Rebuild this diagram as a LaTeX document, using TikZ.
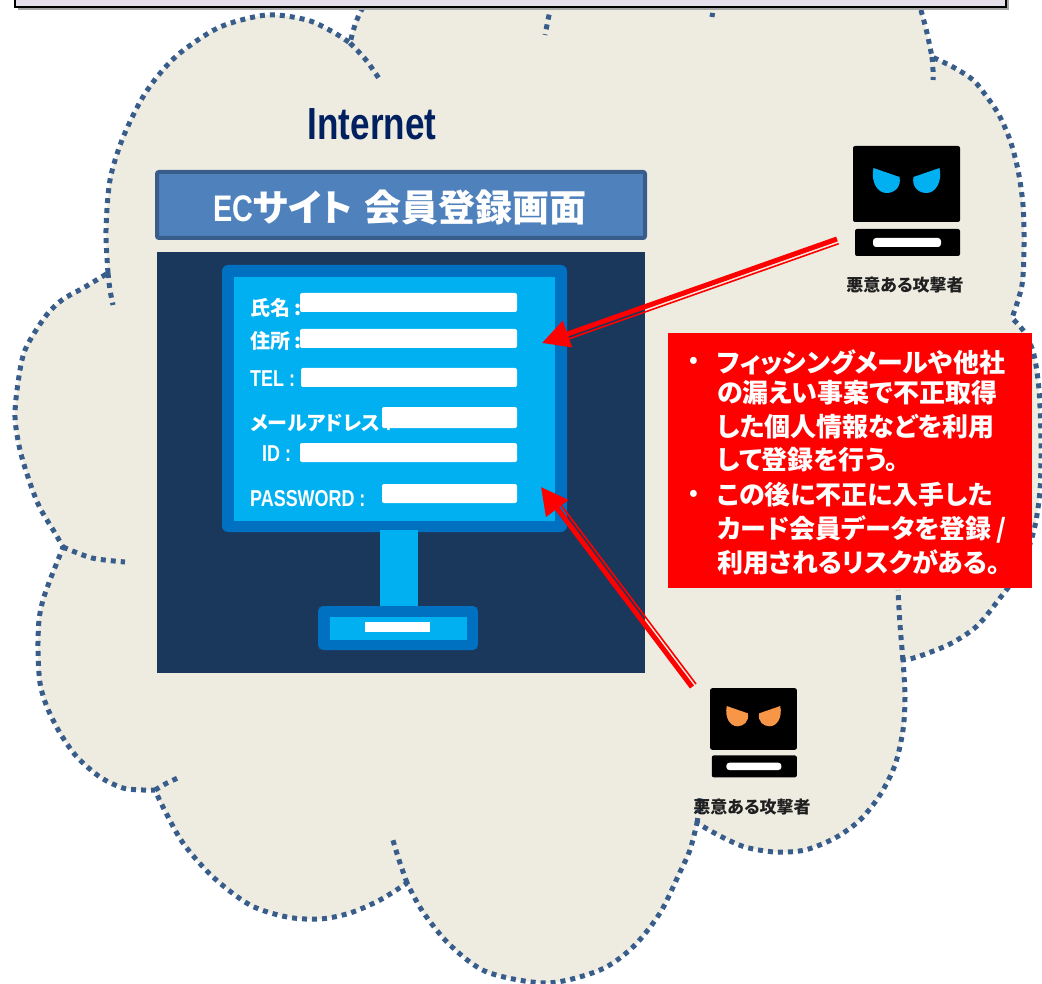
\documentclass[tikz,border=0pt]{standalone}
\usepackage{fontspec}
\usetikzlibrary{calc,arrows.meta}
\newfontfamily\jpfont[RawFeature=+palt]{Noto Sans CJK JP}
\newfontfamily\jpfix{Noto Sans CJK JP}
\newfontfamily\narrowfont[FakeStretch=0.78]{Liberation Sans}
\definecolor{cloudfill}{HTML}{EEECE1}
\definecolor{cloudblue}{HTML}{385D8A}
\definecolor{lavender}{HTML}{E6E0EC}
\definecolor{titlefill}{HTML}{4F81BD}
\definecolor{titleedge}{HTML}{385D8A}
\definecolor{panelnavy}{HTML}{1A375C}
\definecolor{monblue}{HTML}{0070C0}
\definecolor{moncyan}{HTML}{00B0F0}
\definecolor{netnavy}{HTML}{002060}
\definecolor{eyeorange}{HTML}{F79646}
\definecolor{alertred}{HTML}{FF0000}
\tikzset{
  cloudline/.style={draw=cloudblue, line width=5pt, dash pattern=on 5pt off 5pt},
  field/.style={fill=white, rounded corners=2pt},
  formlabel/.style={text=white, inner sep=0pt, anchor=west},
  alertline/.style={text=white, inner sep=0pt, anchor=west,
    font=\jpfont\bfseries\fontsize{26}{26}\selectfont},
  who/.style={text=black!88, inner sep=0pt,
    font=\jpfont\bfseries\fontsize{17}{17}\selectfont},
  arrowbody/.style={draw=alertred, line width=5pt,
    -{Triangle[length=27pt,width=27pt]}},
  arrowrule/.style={draw=alertred, line width=1.6pt},
  pics/villain/.style={code={
    \fill[black, rounded corners=2pt] (-53.5,-38) rectangle (53.5,38);
    \fill[#1] (-33,-16) -- (-7,-7) .. controls (-5,3) and (-12,9) .. (-20,9)
      .. controls (-29,9) and (-36,-2) .. (-33,-16) -- cycle;
    \fill[#1] (33,-16) -- (7,-7) .. controls (5,3) and (12,9) .. (20,9)
      .. controls (29,9) and (36,-2) .. (33,-16) -- cycle;
    \fill[black, rounded corners=2pt] (-51.5,45) rectangle (53.5,72);
    \fill[white, rounded corners=3pt] (-33.5,54) rectangle (34.5,63);
  }}
}
\begin{document}
\begin{tikzpicture}[x=1pt,y=-1pt]
\useasboundingbox (0,0) rectangle (1042,984);
\fill[white] (0,0) rectangle (1042,984);

% ---- the Internet cloud ----
\def\cloudpath{
  plot[smooth] coordinates {(108,273) (106,230) (110,180) (122,140) (140,102) (157,77) (180,53) (220,27) (267,15) (307,20) (333,32) (350,43)}
  -- plot[smooth] coordinates {(350,43) (356,22) (366,2) (385,-25) (430,-45) (490,-48) (540,-30)}
  -- plot[smooth] coordinates {(540,-30) (600,-55) (680,-55) (740,-30)}
  -- plot[smooth] coordinates {(740,-30) (820,-60) (890,-45) (912,-15) (920,7) (927,33) (932,57)}
  -- plot[smooth] coordinates {(932,57) (953,67) (973,80) (987,97) (999,115) (1010,140) (1018,170) (1023,205) (1024,245) (1022,285) (1012,318)}
  -- plot[smooth] coordinates {(1012,318) (1025,333) (1034,355) (1039,390) (1041,440) (1040,490) (1034,530) (1020,570) (1000,598) (977,626) (950,644) (917,657) (903,660)}
  -- plot[smooth] coordinates {(903,660) (905,697) (903,730) (895,765) (880,795) (860,820) (835,838) (805,850) (775,852) (745,847) (720,836) (697,823)}
  -- plot[smooth] coordinates {(697,823) (690,850) (680,872) (660,913) (633,947) (600,970) (547,983) (487,972) (450,945) (423,912) (407,883)}
  -- plot[smooth] coordinates {(407,883) (380,900) (350,913) (320,919) (287,917) (250,905) (213,877) (183,843) (163,807) (155,790)}
  -- plot[smooth] coordinates {(155,790) (143,790) (123,788) (100,777) (77,757) (60,733) (47,707) (40,683) (38,650) (39,620) (43,600) (50,580) (58,560) (63,547)}
  -- plot[smooth] coordinates {(63,547) (55,533) (40,508) (30,483) (20,450) (15,417) (18,383) (25,350) (45,317) (62,300) (85,287) (108,273)}
}
\fill[cloudfill] \cloudpath -- cycle;
\draw[cloudline] \cloudpath;
% inner arcs of the cloud
\draw[cloudline] plot[smooth] coordinates {(108,273) (110,290) (113,305)};
\draw[cloudline] plot[smooth] coordinates {(63,547) (92,558) (125,562)};
\draw[cloudline] plot[smooth] coordinates {(155,790) (167,783) (180,777)};
\draw[cloudline] plot[smooth] coordinates {(407,883) (399,860) (392,837)};
\draw[cloudline] plot[smooth] coordinates {(697,823) (699,810) (700,798)};
\draw[cloudline] plot[smooth] coordinates {(903,660) (900,625) (898,590)};
\draw[cloudline] plot[smooth] coordinates {(932,57) (933,70) (933,80)};
\draw[cloudline] plot[smooth] coordinates {(350,43) (366,60) (380,80)};
\draw[cloudline] plot[smooth] coordinates {(553,-5) (549,15) (545,35)};
\draw[cloudline] plot[smooth] coordinates {(714,3) (713,10) (712,17)};

% ---- heading strip ----
\fill[black!35] (18,-20) rectangle (1009,10);
\fill[lavender, draw=black, line width=1.6pt] (15,-20) rectangle (1006,7);

% ---- Internet label ----
\node[text=netnavy, inner sep=0pt, font=\narrowfont\bfseries\fontsize{45}{45}\selectfont]
  (net) at (372,124) {Internet};

% ---- site title ----
\node[fill=titlefill, draw=titleedge, line width=4pt, rounded corners=2pt,
  minimum width=488pt, minimum height=66pt, inner sep=0pt] (title) at (401,205) {};
\node[text=white, inner sep=0pt] (titletext) at (400,207)
  {{\narrowfont\bfseries\fontsize{37}{37}\selectfont EC}{\jpfont\bfseries\fontsize{37}{37}\selectfont サイト\hspace{12pt}会員登録画面}};

% ---- site panel with monitor ----
\fill[panelnavy] (157,252) rectangle (645,673);
\fill[monblue, rounded corners=6pt] (222,265) rectangle (567,532);
\fill[moncyan] (234,277) rectangle (555,521);
\fill[moncyan] (380,530) rectangle (418,610);
\fill[monblue, rounded corners=5pt] (318,606) rectangle (478,650);
\fill[moncyan] (330,617) rectangle (467,640);
\fill[white] (365,622) rectangle (430,632);

% ---- form ----
\node[formlabel, font=\jpfont\bfseries\fontsize{20}{20}\selectfont] (lname) at (250,308) {氏名\hspace{4pt}:};
\fill[field] (300,293) rectangle (517,312);
\node[formlabel, font=\jpfont\bfseries\fontsize{20}{20}\selectfont] (laddr) at (250,341) {住所\hspace{4pt}:};
\fill[field] (300,329) rectangle (517,348);
\node[formlabel, font=\narrowfont\bfseries\fontsize{23}{23}\selectfont] (ltel) at (250,379) {TEL :};
\fill[field] (301,368) rectangle (517,387);
\node[formlabel] (lmail) at (250,423)
  {{\jpfont\bfseries\fontsize{20}{20}\selectfont メールアドレス}{\narrowfont\bfseries\fontsize{23}{23}\selectfont\ :}};
\fill[field] (382,407) rectangle (517,428);
\node[formlabel, font=\narrowfont\bfseries\fontsize{23}{23}\selectfont] (lid) at (262,454) {ID :};
\fill[field] (300,443) rectangle (517,462);
\node[formlabel, font=\narrowfont\bfseries\fontsize{23}{23}\selectfont] (lpass) at (250,499) {PASSWORD :};
\fill[field] (382,484) rectangle (517,503);

% ---- attackers ----
\pic at (906.5,184) {villain=moncyan};
\node[who] (whoA) at (905,285) {悪意ある攻撃者};
\pic[scale=0.81] at (753.5,719) {villain=eyeorange};
\node[who] (whoB) at (752,807) {悪意ある攻撃者};

% ---- attack arrows ----
\coordinate (tailA) at (837,239);
\coordinate (tipA) at (542,343);
\coordinate (tailB) at (692,687);
\coordinate (tipB) at (541,487);
\draw[arrowrule] ($(tailA)+(1.7,4.7)$) -- ($(tipA)!22pt!(tailA)+(1.7,4.7)$);
\draw[arrowbody] (tailA) -- (tipA);
\draw[arrowrule] ($(tailB)+(4,-3)$) -- ($(tipB)!22pt!(tailB)+(4,-3)$);
\draw[arrowbody] (tailB) -- (tipB);

% ---- warning box ----
\node[fill=alertred, minimum width=364pt, minimum height=255pt, inner sep=0pt] (alert) at (850,460.5) {};
\node[text=white, inner sep=0pt, font=\jpfix\bfseries\fontsize{22}{22}\selectfont] (dotA) at (694,362) {•};
\node[text=white, inner sep=0pt, font=\jpfix\bfseries\fontsize{22}{22}\selectfont] (dotB) at (694,495) {•};
\node[alertline] (t1) at (717,362) {フィッシングメールや他社};
\node[alertline] (t2) at (717,393) {の漏えい事案で不正取得};
\node[alertline] (t3) at (717,427) {した個人情報などを利用};
\node[alertline] (t4) at (717,460) {して登録を行う。};
\node[alertline] (t5) at (717,495) {この後に不正に入手した};
\node[alertline] (t6) at (717,529) {カード会員データを登録\hspace{5pt}/};
\node[alertline] (t7) at (717,562) {利用されるリスクがある。};
\end{tikzpicture}
\end{document}
